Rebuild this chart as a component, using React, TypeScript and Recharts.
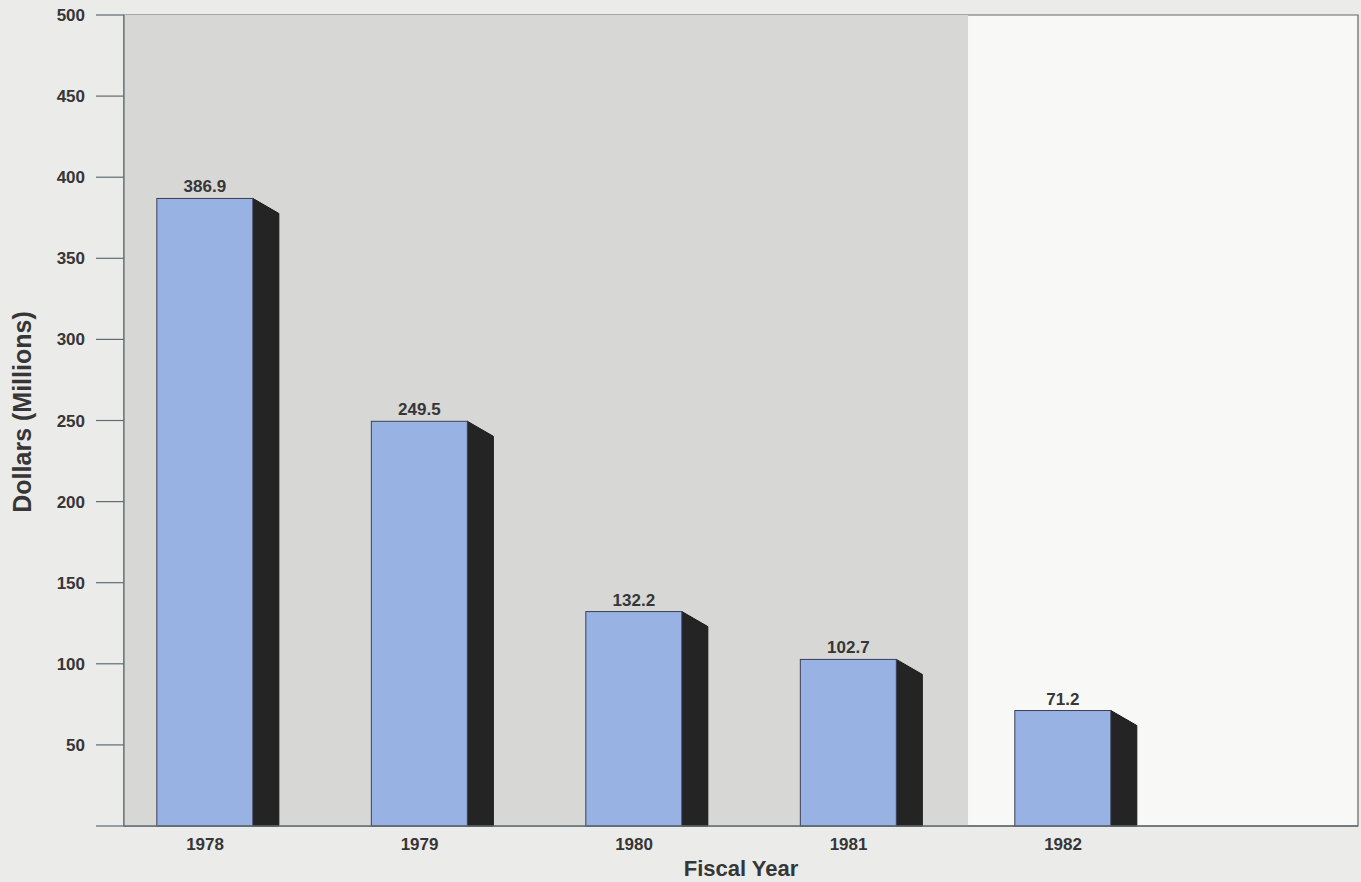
import React from 'react'
import { BarChart, Bar, XAxis, YAxis, ReferenceArea, LabelList, Label } from 'recharts'

const years = [1978, 1979, 1980, 1981, 1982]
const outlays = [386.9, 249.5, 132.2, 102.7, 71.2]
const yTicks = [0, 50, 100, 150, 200, 250, 300, 350, 400, 450, 500]
const xDomain: [number, number] = [1977.622, 1983.375]
const shadedEnd = 1981.557

const data = years.map((year, i) => ({ year, value: outlays[i] }))

const FONT = '"Liberation Sans", Arial, sans-serif'
const AXIS = '#5f6b70'
const TEXT = '#363636'

// front face plus a dark extruded side running down to the baseline
function Bar3D(props: any) {
  const { x, y, width, height } = props
  const depth = 26
  const drop = 15
  const base = y + height
  const side = `${x + width},${y} ${x + width + depth},${y + drop} ${x + width + depth},${base} ${x + width},${base}`
  return (
    <g>
      <polygon points={side} fill="#242424" stroke="#1a1a1a" strokeWidth={1} />
      <rect x={x} y={y} width={width} height={height} fill="#98b2e4" stroke="#3c3f55" strokeWidth={1} />
    </g>
  )
}

function YTitle() {
  const cx = 22
  const cy = 412
  return (
    <text x={cx} y={cy} transform={`rotate(-90 ${cx} ${cy})`} textAnchor="middle" dominantBaseline="central"
      fontFamily={FONT} fontSize={25} fontWeight="bold" fill={TEXT}>
      Dollars (Millions)
    </text>
  )
}

export default function App() {
  return (
    <div style={{ position: 'absolute', left: 0, top: 0, width: 1361, height: 882, background: '#ebebea' }}>
      <BarChart width={1361} height={882} data={data} margin={{ top: 15, right: 3, bottom: 26, left: 0 }}>
        <ReferenceArea x1={xDomain[0]} x2={xDomain[1]} y1={0} y2={500} fill="#f8f8f6" fillOpacity={1} stroke="#666" strokeWidth={1.2} ifOverflow="visible" />
        <ReferenceArea x1={xDomain[0]} x2={shadedEnd} y1={0} y2={500} fill="#d7d7d6" fillOpacity={1} stroke="none" ifOverflow="visible" />
        <XAxis
          dataKey="year"
          type="number"
          domain={xDomain}
          ticks={years}
          allowDataOverflow
          height={30}
          tickLine={false}
          axisLine={{ stroke: AXIS, strokeWidth: 1.5 }}
          tick={{ fontFamily: FONT, fontSize: 17, fontWeight: 'bold', fill: TEXT }}
          tickMargin={6}
        >
          <Label value="Fiscal Year" position="bottom" offset={4}
            style={{ fontFamily: FONT, fontSize: 22, fontWeight: 'bold', fill: TEXT }} />
        </XAxis>
        <YAxis
          width={124}
          domain={[0, 500]}
          ticks={yTicks}
          interval={0}
          tickSize={28}
          tickMargin={11}
          tickFormatter={(v: number) => (v === 0 ? '' : String(v))}
          axisLine={{ stroke: AXIS, strokeWidth: 1.2 }}
          tickLine={{ stroke: AXIS, strokeWidth: 1.2 }}
          tick={{ fontFamily: FONT, fontSize: 17, fontWeight: 'bold', fill: TEXT }}
        >
          <Label content={<YTitle />} />
        </YAxis>
        <Bar dataKey="value" barSize={96} shape={<Bar3D />} isAnimationActive={false}>
          <LabelList dataKey="value" position="top" offset={6}
            style={{ fontFamily: FONT, fontSize: 17, fontWeight: 'bold', fill: TEXT }} />
        </Bar>
      </BarChart>
    </div>
  )
}
